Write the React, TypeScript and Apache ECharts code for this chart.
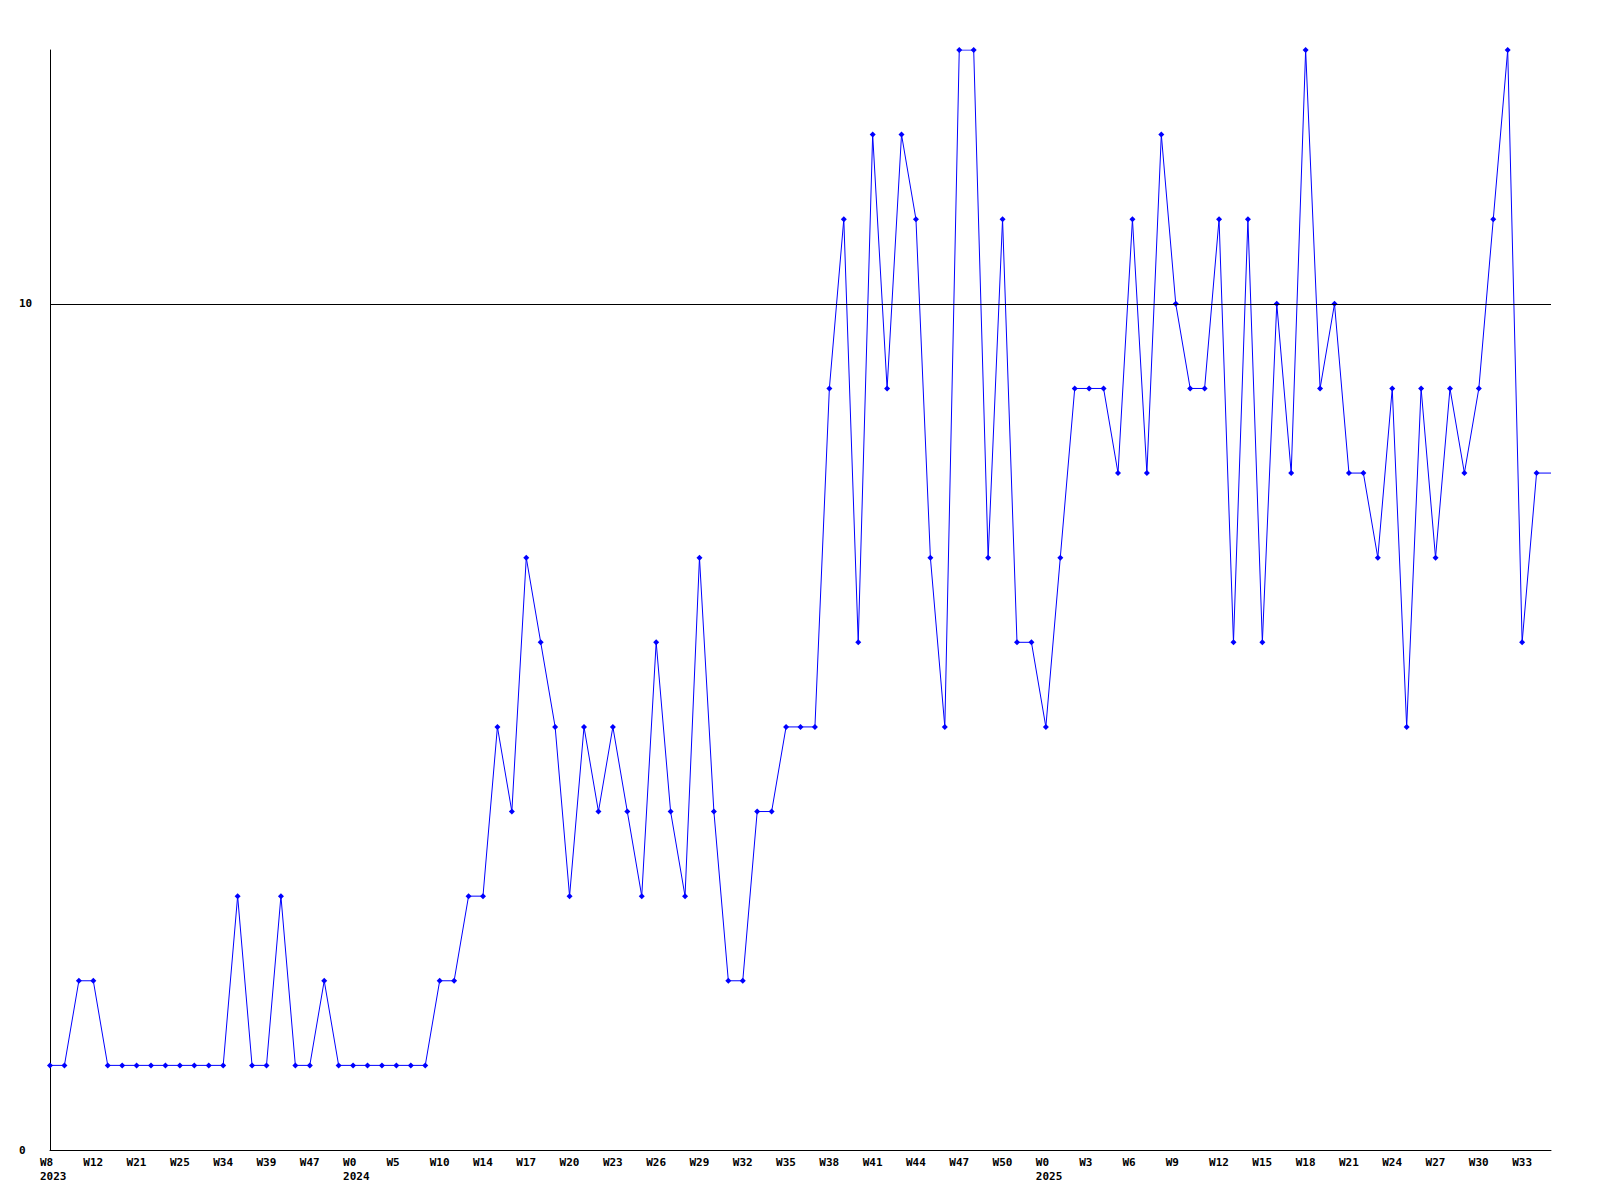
import React, { useEffect, useRef } from "react";
import * as echarts from "echarts";

// Week categories (every 3rd one is labelled on the axis)
const weeks: string[] = [
  "2023-W8", "2023-W9", "2023-W11", "2023-W12", "2023-W14", "2023-W17", "2023-W21", "2023-W22", "2023-W24",
  "2023-W25", "2023-W28", "2023-W31", "2023-W34", "2023-W36", "2023-W37", "2023-W39", "2023-W41", "2023-W44",
  "2023-W47", "2023-W48", "2023-W51", "2024-W0", "2024-W2", "2024-W3", "2024-W5", "2024-W7", "2024-W8",
  "2024-W10", "2024-W11", "2024-W13", "2024-W14", "2024-W15", "2024-W16", "2024-W17", "2024-W18", "2024-W19",
  "2024-W20", "2024-W21", "2024-W22", "2024-W23", "2024-W24", "2024-W25", "2024-W26", "2024-W27", "2024-W28",
  "2024-W29", "2024-W30", "2024-W31", "2024-W32", "2024-W33", "2024-W34", "2024-W35", "2024-W36", "2024-W37",
  "2024-W38", "2024-W39", "2024-W40", "2024-W41", "2024-W42", "2024-W43", "2024-W44", "2024-W45", "2024-W46",
  "2024-W47", "2024-W48", "2024-W49", "2024-W50", "2024-W51", "2024-W52", "2025-W0", "2025-W1", "2025-W2",
  "2025-W3", "2025-W4", "2025-W5", "2025-W6", "2025-W7", "2025-W8", "2025-W9", "2025-W10", "2025-W11",
  "2025-W12", "2025-W13", "2025-W14", "2025-W15", "2025-W16", "2025-W17", "2025-W18", "2025-W19", "2025-W20",
  "2025-W21", "2025-W22", "2025-W23", "2025-W24", "2025-W25", "2025-W26", "2025-W27", "2025-W28", "2025-W29",
  "2025-W30", "2025-W31", "2025-W32", "2025-W33", "2025-W34", "2025-W35",
];

const values: number[] = [
  1, 1, 2, 2, 1, 1, 1, 1, 1, 1, 1, 1, 1, 3, 1, 1, 3, 1, 1, 2,
  1, 1, 1, 1, 1, 1, 1, 2, 2, 3, 3, 5, 4, 7, 6, 5, 3, 5, 4, 5,
  4, 3, 6, 4, 3, 7, 4, 2, 2, 4, 4, 5, 5, 5, 9, 11, 6, 12, 9, 12,
  11, 7, 5, 13, 13, 7, 11, 6, 6, 5, 7, 9, 9, 9, 8, 11, 8, 12, 10, 9,
  9, 11, 6, 11, 6, 10, 8, 13, 9, 10, 8, 8, 7, 9, 5, 9, 7, 9, 8, 9,
  11, 13, 6, 8, 8,
];

const yMin = 0;
const yMax = 13;
const yInterval = 10;
const refLine = 10;

export default function App() {
  const ref = useRef<HTMLDivElement>(null);

  useEffect(() => {
    if (!ref.current) return;
    const chart = echarts.init(ref.current, null, { renderer: "svg" });
    const font = "DejaVu Sans Mono";
    const seriesData = values.map((v, i) =>
      i === values.length - 1 ? { value: v, symbol: "none" } : v
    );
    chart.setOption({
      animation: false,
      backgroundColor: "#ffffff",
      grid: { left: 50, right: 49, top: 50, bottom: 50, containLabel: false },
      xAxis: {
        type: "category",
        data: weeks,
        boundaryGap: false,
        axisLine: { show: true, lineStyle: { color: "#000000", width: 1 } },
        axisTick: { show: false },
        splitLine: { show: false },
        axisLabel: {
          interval: 2,
          margin: 5,
          align: "center",
          formatter: (val: string, idx: number) => {
            const [yr, wk] = val.split("-");
            const prev = idx > 0 ? weeks[idx - 1].split("-")[0] : "";
            return prev !== yr ? `{a|${wk}}\n{a|${yr}}` : `{a|${wk}}`;
          },
          rich: {
            a: {
              width: 20,
              align: "left",
              fontFamily: font,
              fontWeight: "bold",
              fontSize: 11,
              lineHeight: 14,
              color: "#000000",
            },
          },
        },
      },
      yAxis: {
        type: "value",
        min: yMin,
        max: yMax,
        interval: yInterval,
        axisLine: { show: true, lineStyle: { color: "#000000", width: 1 } },
        axisTick: { show: false },
        splitLine: { show: false },
        axisLabel: {
          align: "left",
          margin: 31,
          fontFamily: font,
          fontWeight: "bold",
          fontSize: 11,
          color: "#000000",
          formatter: (v: number) => (v % yInterval === 0 ? String(v) : ""),
        },
      },
      series: [
        {
          type: "line",
          data: seriesData,
          symbol: "diamond",
          symbolSize: 6,
          showSymbol: true,
          lineStyle: { color: "#0000ff", width: 1 },
          itemStyle: { color: "#0000ff" },
          markLine: {
            silent: true,
            symbol: ["none", "none"],
            label: { show: false },
            lineStyle: { color: "#000000", width: 1, type: "solid" },
            data: [{ yAxis: refLine }],
          },
          z: 3,
        },
      ],
    });
    return () => chart.dispose();
  }, []);

  return (
    <div
      ref={ref}
      style={{ position: "fixed", left: 0, top: 0, width: 1600, height: 1200, background: "#fff" }}
    />
  );
}
